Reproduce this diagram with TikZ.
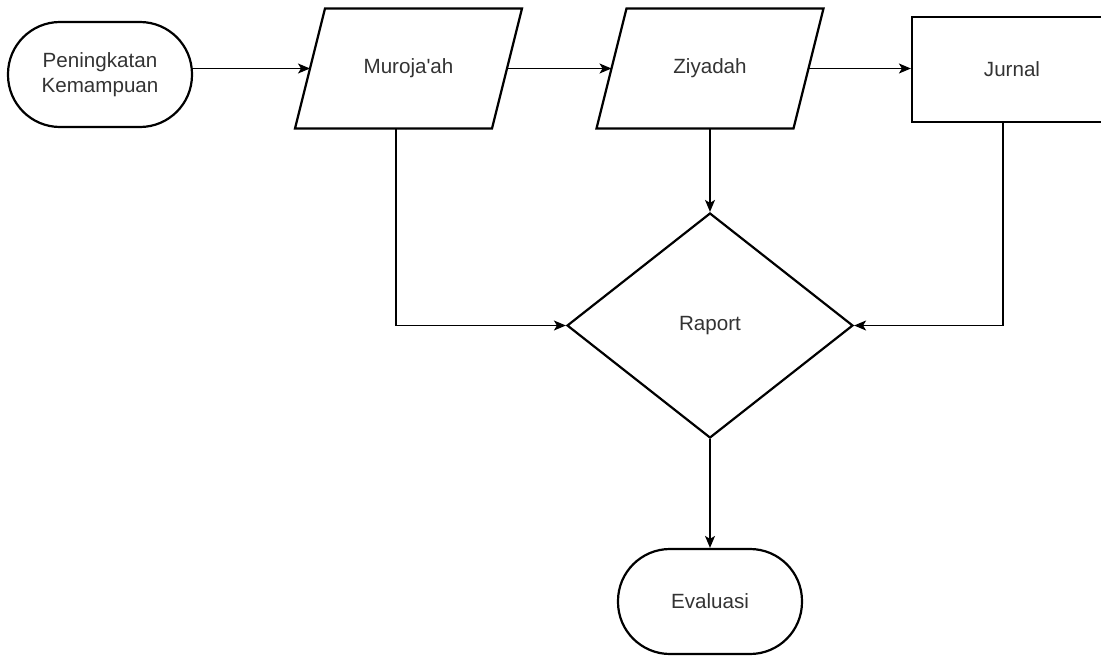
\documentclass[tikz,border=0pt]{standalone}
\usepackage{fontspec}
\setmainfont{Liberation Sans}
\usetikzlibrary{shapes.geometric,arrows.meta}
\definecolor{txtgray}{HTML}{333333}
\begin{document}
\begin{tikzpicture}[x=1pt,y=-1pt,
  shapeline/.style={draw=black, line width=2.2pt, line join=miter},
  txtstyle/.style={text=txtgray, font=\fontsize{20.6}{25}\selectfont, align=center, inner sep=0pt},
  startend/.style={shapeline, txtstyle, rectangle, rounded corners=52pt, minimum width=184pt, minimum height=105pt},
  ioslot/.style={txtstyle, rectangle, minimum width=197pt, minimum height=120pt, outer sep=0pt},
  procbox/.style={shapeline, txtstyle, rectangle, minimum width=200pt, minimum height=105pt},
  decision/.style={shapeline, txtstyle, diamond, minimum width=286pt, minimum height=225pt},
  flow/.style={draw=black, line width=1.4pt, -{Stealth[length=12pt,width=10pt,inset=3pt]}},
  ioshape/.style={shapeline}
]
\useasboundingbox (0,0) rectangle (1101,656);
\clip (0,0) rectangle (1101,656);

% nodes
\node[startend] (start) at (100,74.5) {Peningkatan\\Kemampuan};
\node[ioslot] (mur) at (408.5,68.5) {Muroja\textquotesingle ah};
\node[ioslot] (ziy) at (710,68.5) {Ziyadah};
\node[procbox] (jur) at (1012,69.5) {Jurnal};
\node[decision] (rap) at (710,325.5) {Raport};
\node[startend] (eva) at (710,601.5) {Evaluasi};

% parallelogram outlines for the input/output steps
\foreach \n in {mur,ziy}{
  \draw[ioshape] ([xshift=15pt]\n.north west) -- ([xshift=15pt]\n.north east)
    -- ([xshift=-15pt]\n.south east) -- ([xshift=-15pt]\n.south west) -- cycle;
}

% connectors
\draw[flow] (start.east |- mur.west) -- (mur.west);
\draw[flow] (mur.east) -- (ziy.west);
\draw[flow] (ziy.east) -- (jur.west |- ziy.east);
\draw[flow] (ziy.south) -- (rap.north);
\draw[flow] ([xshift=-12.5pt]mur.south) |- (rap.west);
\draw[flow] ([xshift=-9pt]jur.south) |- (rap.east);
\draw[flow] (rap.south) -- (eva.north);
\end{tikzpicture}
\end{document}
